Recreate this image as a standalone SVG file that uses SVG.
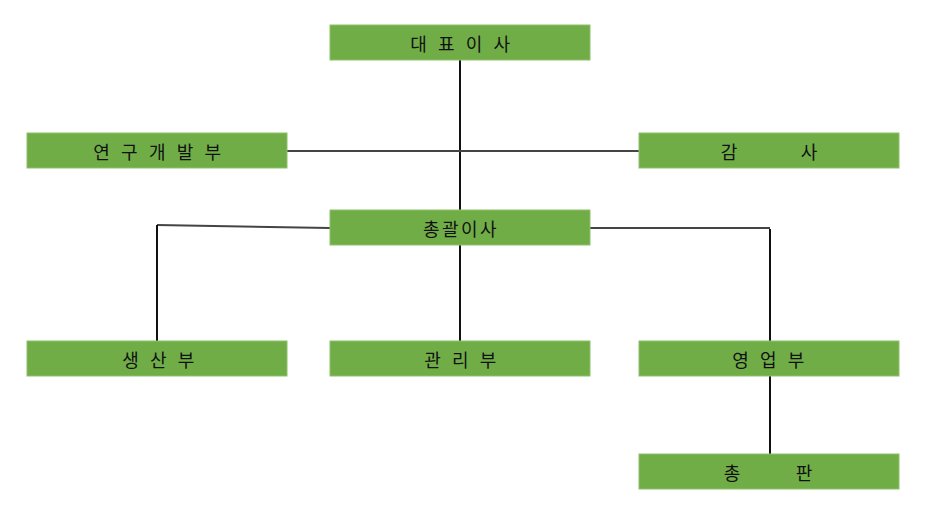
<svg xmlns="http://www.w3.org/2000/svg" width="926" height="522" viewBox="0 0 926 522">
<style>
.box{fill:#70AD47;stroke:#8DC06A;stroke-width:1}
.t{font-family:"Noto Sans CJK KR","Noto Sans",sans-serif;font-size:18px;fill:#111;text-anchor:middle;dominant-baseline:central;letter-spacing:3.6px}
.s{font-family:"Noto Sans CJK KR","Noto Sans",sans-serif;font-size:18px;fill:#111;text-anchor:middle;dominant-baseline:central}
.ln{stroke:#111;stroke-width:2;fill:none}
.lg{stroke:#444;stroke-width:2;fill:none}
</style>
<rect width="926" height="522" fill="#fff"/>
<g id="connectors">
<line class="ln" x1="460" y1="60" x2="460" y2="210"/>
<line class="lg" x1="287" y1="151" x2="639" y2="151"/>
<polyline class="lg" points="330,228 157,225"/>
<line class="ln" x1="157" y1="225" x2="157" y2="341"/>
<polyline class="lg" points="590,228 770,228"/>
<line class="ln" x1="770" y1="229" x2="770" y2="341"/>
<line class="ln" x1="460" y1="245" x2="460" y2="341"/>
<line class="ln" x1="770" y1="376" x2="770" y2="454"/>
</g>
<g id="ceo"><rect class="box" x="330" y="25" width="260" height="35"/><text class="t" x="462" y="42.5">대 표 이 사</text></g>
<g id="rnd"><rect class="box" x="27" y="133" width="260" height="35"/><text class="t" x="159" y="150.5">연 구 개 발 부</text></g>
<g id="audit"><rect class="box" x="639" y="133" width="260" height="35"/><text class="s" y="150.5"><tspan x="731">감</tspan> <tspan x="809">사</tspan></text></g>
<g id="gm"><rect class="box" x="330" y="210" width="260" height="35"/><text class="s" x="461" y="227.5" style="letter-spacing:2.5px">총괄이사</text></g>
<g id="prod"><rect class="box" x="27" y="341" width="260" height="35"/><text class="t" x="160" y="358.5">생 산 부</text></g>
<g id="admin"><rect class="box" x="330" y="341" width="260" height="35"/><text class="t" x="462" y="358.5">관 리 부</text></g>
<g id="sales"><rect class="box" x="639" y="341" width="260" height="35"/><text class="t" x="770" y="358.5">영 업 부</text></g>
<g id="dist"><rect class="box" x="639" y="454" width="260" height="35"/><text class="s" y="471.5"><tspan x="734">총</tspan> <tspan x="804">판</tspan></text></g>
</svg>
